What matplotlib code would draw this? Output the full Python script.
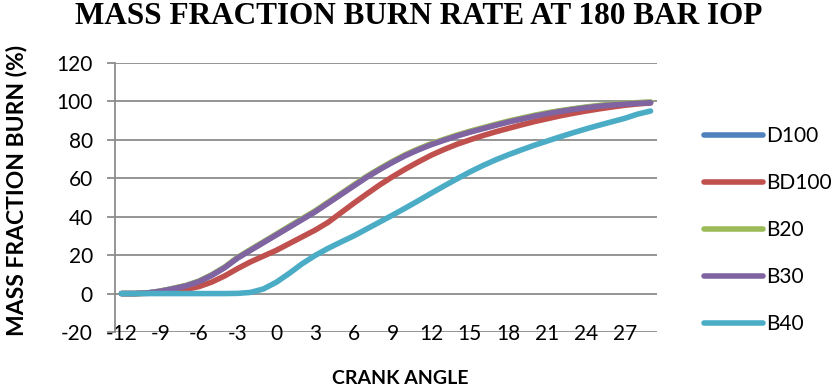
import matplotlib
matplotlib.use("Agg")
import matplotlib.pyplot as plt
import numpy as np

plt.rcParams["axes.unicode_minus"] = False

crank = list(range(-12, 30))
b30 = [0, 0, 0.3, 1.2, 2.5, 4, 6.2, 9.5, 13.5, 18.5, 22.5, 26.5, 30.5, 34.5, 38.5, 42.5,
       47, 51.5, 56, 60.5, 64.5, 68.3, 71.8, 74.8, 77.5, 79.8, 82, 84, 85.8, 87.6, 89.3,
       90.8, 92.3, 93.6, 94.8, 95.8, 96.7, 97.5, 98.1, 98.6, 99, 99.3]
b20 = [0, 0, 0.3, 1.3, 2.7, 4.2, 6.5, 9.8, 13.8, 18.8, 22.9, 26.9, 30.9, 35, 39, 43,
       47.5, 52, 56.5, 61, 65, 68.8, 72.3, 75.3, 78, 80.3, 82.5, 84.5, 86.3, 88.1, 89.8,
       91.3, 92.8, 94.1, 95.2, 96.2, 97.1, 97.9, 98.5, 99, 99.4, 99.7]
d100 = [0, 0, 0.3, 1.2, 2.6, 4.1, 6.3, 9.6, 13.6, 18.6, 22.7, 26.7, 30.7, 34.7, 38.7, 42.7,
        47.2, 51.7, 56.2, 60.7, 64.7, 68.5, 72, 75, 77.7, 80, 82.2, 84.2, 86, 87.8, 89.5,
        91, 92.5, 93.8, 95, 96, 96.9, 97.7, 98.3, 98.8, 99.2, 99.5]
bd100 = [0, 0, 0.1, 0.5, 1.2, 2.2, 3.6, 6, 9.2, 13, 16.5, 19.5, 22.5, 26, 29.5, 33,
         37, 42, 47, 51.8, 56.5, 60.8, 64.8, 68.5, 72, 75, 77.7, 80, 82.2, 84.2, 86,
         87.8, 89.5, 91, 92.5, 93.8, 95, 96.1, 97.1, 98, 98.7, 99.2]
b40 = [0, 0, 0, 0, 0, 0, 0, 0, 0, 0.1, 0.6, 2.4, 5.9, 10.5, 15.5, 19.8,
       23.5, 26.8, 30, 33.6, 37.2, 40.8, 44.5, 48.3, 52.2, 56, 59.7, 63.3, 66.6, 69.6, 72.3,
       74.8, 77.2, 79.4, 81.6, 83.7, 85.7, 87.6, 89.4, 91.2, 93.4, 95]

series = [("D100", d100, "#4F81BD"), ("BD100", bd100, "#C0504D"),
          ("B20", b20, "#9BBB59"), ("B30", b30, "#8064A2"), ("B40", b40, "#4BACC6")]
xticks = list(range(-12, 28, 3))
yticks = list(range(-20, 121, 20))

fig = plt.figure(figsize=(8.34, 3.89), dpi=100)
ax = fig.add_axes([115/834, 1-332/389, (657-115)/834, (332-63)/389])

grid_c = "#8c8c8c"
for yv in yticks:
    ax.axhline(yv, color=grid_c, lw=1.3, zorder=1)

for name, vals, col in series:
    ax.plot(crank, vals, color=col, lw=4.0, label=name, solid_capstyle="round", zorder=3)

ax.set_xlim(-12.5, 29.5)
ax.set_ylim(-20, 120)
for s in ["top", "right", "bottom"]:
    ax.spines[s].set_visible(False)
ax.spines["left"].set_color(grid_c)
ax.spines["left"].set_linewidth(1.3)

ax.set_yticks(yticks)
ax.set_yticklabels([str(v) for v in yticks])
ax.set_xticks(xticks)
ax.set_xticklabels([str(v) for v in xticks])
ax.tick_params(axis="y", length=6, width=1.3, color=grid_c, pad=10, labelsize=15)
ax.tick_params(axis="x", length=0, pad=-6, labelsize=15)
for lab in ax.get_xticklabels() + ax.get_yticklabels():
    lab.set_fontfamily("Lato")

fig.text(0.502, 1-16/389, "MASS FRACTION BURN RATE AT 180 BAR IOP", ha="center", va="center",
         fontsize=22.5, fontweight="bold", family="Liberation Serif")
fig.text(17/834, 1-190/389, "MASS FRACTION BURN (%)", ha="center", va="center",
         rotation=90, fontsize=16.5, fontweight="bold", family="Lato")
fig.text(400/834, 1-378/389, "CRANK ANGLE", ha="center", va="center",
         fontsize=14, fontweight="bold", family="Lato")

leg = fig.legend(loc="center left", bbox_to_anchor=(696/834, 1-230/389), frameon=False,
                 prop={"family": "Lato", "size": 15}, handlelength=2.8, handletextpad=0.15,
                 labelspacing=1.3, borderaxespad=0)

fig.savefig("out.png", dpi=100)
